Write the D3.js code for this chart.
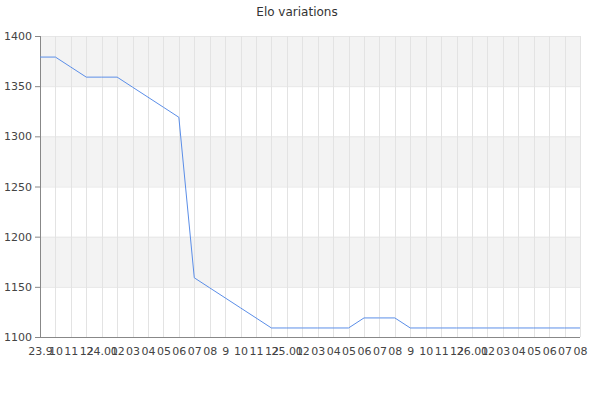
<!DOCTYPE html>
<html>
<head>
<meta charset="utf-8">
<script src="https://cdn.jsdelivr.net/npm/d3@7"></script>
<style>
  body { margin: 0; background: #fff; }
  svg { font-family: "DejaVu Sans", sans-serif; }
</style>
</head>
<body>
<svg id="chart" width="600" height="400"></svg>
<script>
// month labels (year.month), one per data point
const labels = ['23.9', '10', '11', '12', '24.01', '02', '03', '04', '05', '06', '07', '08',
                '9', '10', '11', '12', '25.01', '02', '03', '04', '05', '06', '07', '08',
                '9', '10', '11', '12', '26.01', '02', '03', '04', '05', '06', '07', '08'];
// elo value per month
const elo = [1379, 1379, 1369, 1359, 1359, 1359, 1349, 1339, 1329, 1319, 1159, 1149,
             1139, 1129, 1119, 1109, 1109, 1109, 1109, 1109, 1109, 1119, 1119, 1119,
             1109, 1109, 1109, 1109, 1109, 1109, 1109, 1109, 1109, 1109, 1109, 1109];
const yMajor = [1100, 1150, 1200, 1250, 1300, 1350, 1400];

const svg = d3.select('#chart');
const margin = {left: 40, top: 36, right: 20, bottom: 63};
const width = 600 - margin.left - margin.right,
      height = 400 - margin.top - margin.bottom;

const x = d3.scaleLinear().domain([0, labels.length - 1]).range([margin.left, margin.left + width]);
const y = d3.scaleLinear().domain([1100, 1400]).range([margin.top + height, margin.top]);

// title
svg.append('text')
    .attr('x', 297).attr('y', 16)
    .attr('text-anchor', 'middle')
    .attr('font-size', 12).attr('fill', '#333')
    .text('Elo variations');

// alternating bands
const bands = d3.range(0, yMajor.length - 1);
svg.append('g').selectAll('rect')
    .data(bands)
    .join('rect')
    .attr('x', x(0))
    .attr('width', width)
    .attr('y', i => y(yMajor[i + 1]))
    .attr('height', i => y(yMajor[i]) - y(yMajor[i + 1]))
    .attr('fill', i => i % 2 === 1 ? '#f3f3f3' : '#fff');

// horizontal grid
svg.append('g').selectAll('line')
    .data(yMajor)
    .join('line')
    .attr('x1', x(0)).attr('x2', x(labels.length - 1))
    .attr('y1', d => y(d) + 0.5).attr('y2', d => y(d) + 0.5)
    .attr('stroke', '#e6e6e6');

// vertical grid
svg.append('g').selectAll('line')
    .data(labels.map((d, i) => i).slice(1))
    .join('line')
    .attr('x1', i => Math.round(x(i)) + 0.5).attr('x2', i => Math.round(x(i)) + 0.5)
    .attr('y1', y(1400)).attr('y2', y(1100))
    .attr('stroke', '#e3e3e3');

// y axis with minor ticks
const yAxis = svg.append('g').attr('transform', `translate(${x(0)},0)`);
yAxis.call(d3.axisLeft(y).tickValues(d3.range(1100, 1401, 10)).tickSize(5).tickFormat(''));
yAxis.call(d3.axisLeft(y).tickValues(yMajor).tickSize(5).tickPadding(3).tickFormat(d3.format('d')));
yAxis.selectAll('path, line').attr('stroke', '#888');
yAxis.selectAll('path').attr('d', `M0.5,${y(1400)}V${y(1100) + 0.5}`);
yAxis.selectAll('text').attr('font-size', 11).attr('fill', '#444')
    .attr('font-family', '"DejaVu Sans", sans-serif');

// x axis
const xAxis = svg.append('g').attr('transform', `translate(0,${y(1100)})`);
xAxis.call(d3.axisBottom(x)
    .tickValues(d3.range(labels.length))
    .tickSize(0).tickPadding(10)
    .tickFormat(i => labels[i]));
xAxis.selectAll('path').attr('stroke', '#888').attr('d', `M${x(0) - 5},0.5H${x(labels.length - 1)}`);
xAxis.selectAll('text').attr('font-size', 11).attr('fill', '#444')
    .attr('font-family', '"DejaVu Sans", sans-serif');

// elo line
const line = d3.line()
    .x((d, i) => x(i))
    .y(d => y(d));
svg.append('path')
    .datum(elo)
    .attr('d', line)
    .attr('fill', 'none')
    .attr('stroke', '#5b8ee8')
    .attr('stroke-width', 1);
</script>
</body>
</html>
